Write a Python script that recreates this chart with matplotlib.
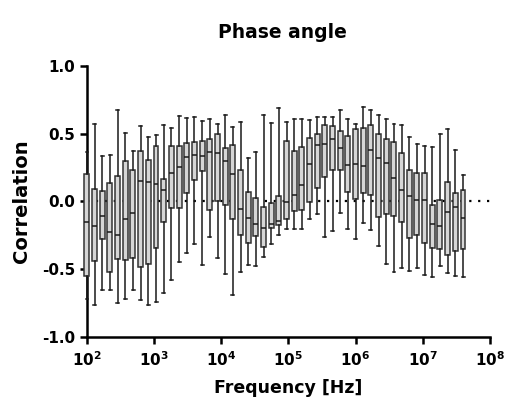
import numpy as np
import matplotlib
matplotlib.use("Agg")
import matplotlib.pyplot as plt
from matplotlib.ticker import FixedLocator, NullLocator, FixedFormatter

plt.rcParams['font.family'] = ['DejaVu Sans']
plt.rcParams['font.weight'] = 'bold'
plt.rcParams['mathtext.fontset'] = 'custom'
plt.rcParams['mathtext.rm'] = 'DejaVu Sans:bold'
plt.rcParams['mathtext.bf'] = 'DejaVu Sans:bold'

# frequencies (Hz) of each box
freq = [100, 130.1, 169.3, 220.3, 286.7, 373.0, 485.3, 631.5, 821.7, 1069,
        1391, 1810, 2355, 3065, 3988, 5188, 6751, 8784, 11429, 14872,
        19351, 25179, 32762, 42630, 55469, 72176, 93915, 122200, 159000, 206900,
        269200, 350300, 455800, 593000, 771700, 1004000, 1306000, 1700000, 2211000, 2877000,
        3744000, 4872000, 6339000, 8248000, 10730000, 13960000, 18170000, 23640000, 30760000, 40000000]

# box statistics
whi_hi = [0.365, 0.570, 0.333, 0.343, 0.679, 0.504, 0.370, 0.556, 0.474, 0.489,
          0.568, 0.546, 0.632, 0.615, 0.622, 0.593, 0.607, 0.575, 0.635, 0.548,
          0.590, 0.319, 0.365, 0.637, 0.578, 0.689, 0.583, 0.612, 0.607, 0.605,
          0.627, 0.622, 0.620, 0.679, 0.610, 0.570, 0.701, 0.679, 0.635, 0.607,
          0.573, 0.563, 0.474, 0.425, 0.412, 0.402, 0.496, 0.538, 0.380, 0.193]
q3 = [0.205, 0.094, 0.074, 0.136, 0.188, 0.299, 0.230, 0.373, 0.309, 0.407,
      0.163, 0.407, 0.407, 0.432, 0.440, 0.447, 0.459, 0.496, 0.395, 0.415,
      0.235, 0.069, 0.025, -0.042, -0.010, 0.042, 0.449, 0.370, 0.405, 0.469,
      0.496, 0.563, 0.556, 0.523, 0.484, 0.533, 0.543, 0.568, 0.499, 0.459,
      0.437, 0.360, 0.235, 0.207, 0.210, -0.027, 0.007, 0.141, 0.059, 0.081]
med = [-0.15, -0.183, -0.109, -0.227, -0.247, -0.131, -0.086, 0.148, 0.141, 0.131,
       0.081, 0.212, 0.252, 0.328, 0.343, 0.338, 0.368, 0.356, 0.301, 0.205,
       -0.054, -0.126, -0.165, -0.195, -0.165, -0.148, -0.005, 0.044, 0.119, 0.277,
       0.415, 0.422, 0.459, 0.395, 0.269, 0.279, 0.259, 0.378, 0.321, 0.284,
       0.175, 0.086, 0.040, 0.010, 0.010, -0.168, -0.183, -0.079, -0.040, -0.123]
q1 = [-0.553, -0.444, -0.281, -0.523, -0.425, -0.432, -0.417, -0.486, -0.464, -0.343,
      -0.153, -0.047, -0.047, 0.062, 0.160, 0.222, -0.062, 0.005, -0.030, -0.133,
      -0.252, -0.306, -0.257, -0.336, -0.195, -0.178, -0.128, -0.074, -0.067, -0.005,
      0.099, 0.178, 0.235, 0.235, 0.069, 0.015, 0.064, 0.049, -0.116, -0.094,
      -0.106, -0.156, -0.269, -0.252, -0.306, -0.343, -0.353, -0.400, -0.368, -0.356]
whi_lo = [-0.720, -0.770, -0.657, -0.657, -0.748, -0.721, -0.654, -0.726, -0.770, -0.743,
          -0.681, -0.578, -0.447, -0.385, -0.319, -0.467, -0.264, -0.422, -0.538, -0.689,
          -0.523, -0.467, -0.481, -0.410, -0.319, -0.252, -0.202, -0.202, -0.202, -0.131,
          -0.096, -0.267, -0.217, -0.089, -0.205, -0.277, -0.163, -0.210, -0.331, -0.462,
          -0.523, -0.491, -0.516, -0.494, -0.541, -0.560, -0.477, -0.528, -0.551, -0.563]

stats = []
for i in range(len(freq)):
    stats.append({'whislo': whi_lo[i], 'q1': q1[i], 'med': med[i],
                  'q3': q3[i], 'whishi': whi_hi[i], 'fliers': []})

fig = plt.figure(figsize=(5.06, 4.08), dpi=100)
ax = fig.add_axes([0.172, 0.175, 0.796, 0.663])
ax.set_xscale('log')

# dotted zero line
ax.axhline(0, color='black', lw=1.6, linestyle=(0, (1, 3)), zorder=1, clip_on=False)

widths = [f * 0.17 for f in freq]
bp = ax.bxp(stats, positions=freq, widths=widths, patch_artist=True,
            showfliers=False, manage_ticks=False,
            boxprops=dict(facecolor='#d6d6d6', edgecolor='#333333', linewidth=1.1),
            medianprops=dict(color='#1a1a1a', linewidth=1.1),
            whiskerprops=dict(color='#1a1a1a', linewidth=1.1),
            capprops=dict(color='#1a1a1a', linewidth=1.1),
            capwidths=[w * 0.6 for w in widths])
for key in ['boxes', 'medians', 'whiskers', 'caps']:
    for a in bp[key]:
        a.set_clip_on(False)
        a.set_zorder(3)

ax.set_xlim(1e2, 1e8)
ax.set_ylim(-1.0, 1.0)
ax.xaxis.set_major_locator(FixedLocator([10.0 ** n for n in range(2, 9)]))
ax.xaxis.set_major_formatter(FixedFormatter(['$\\mathbf{10^{%d}}$' % n for n in range(2, 9)]))
ax.xaxis.set_minor_locator(NullLocator())
ax.set_yticks([-1.0, -0.5, 0.0, 0.5, 1.0])
ax.set_yticklabels(['-1.0', '-0.5', '0.0', '0.5', '1.0'])

for s in ['top', 'right']:
    ax.spines[s].set_visible(False)
for s in ['left', 'bottom']:
    ax.spines[s].set_linewidth(1.8)
ax.tick_params(width=1.8, length=5, labelsize=11, colors='black')
ax.tick_params(axis='x', pad=5)
for lab in ax.get_yticklabels():
    lab.set_fontweight('bold')

ax.set_title('Phase angle', fontsize=13.5, fontweight='bold', pad=20, x=0.485)
ax.set_xlabel('Frequency [Hz]', fontsize=12.5, fontweight='bold', labelpad=7)
ax.set_ylabel('Correlation', fontsize=14, fontweight='bold', labelpad=8)

fig.savefig('out.png', dpi=100)
